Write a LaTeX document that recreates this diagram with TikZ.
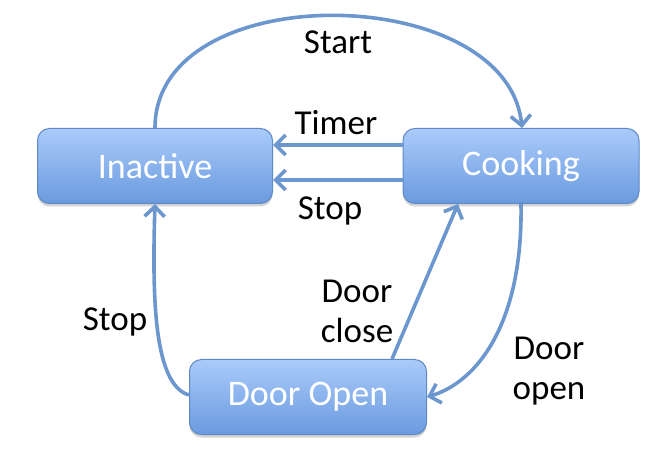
\documentclass[tikz,border=0pt]{standalone}
\usepackage{fontspec}
\setmainfont{Carlito}
\usetikzlibrary{arrows.meta,shadows}
\definecolor{boxtop}{HTML}{AACBFA}
\definecolor{boxbot}{HTML}{6A9ADF}
\definecolor{boxline}{HTML}{5E89C6}
\definecolor{arrowc}{HTML}{6C96CE}
\tikzset{
  state/.style={rectangle, rounded corners=12pt, draw=boxline, line width=1pt,
    top color=boxtop, bottom color=boxbot, minimum height=75pt,
    text=white, font=\fontsize{36}{42}\selectfont,
    drop shadow={opacity=0.35, shadow xshift=0pt, shadow yshift=-3pt}},
  trans/.style={draw=arrowc, line width=3.6pt,
    -{Straight Barb[length=10pt,width=20pt,line width=3.6pt]}},
  lbl/.style={font=\fontsize{35}{40}\selectfont, text=black, align=center}
}
\begin{document}
\begin{tikzpicture}[x=1pt,y=-1pt]
\useasboundingbox (0,0) rectangle (659,454);
\node[state, minimum width=235pt] (inact) at (155,166) {Inactive};
\node[state, minimum width=236pt] (cook) at (521,166) {Cooking};
\node[state, minimum width=237pt] (door) at (308,397) {Door Open};

\draw[trans] (inact.north) .. controls +(0,-152) and +(-15,-147) .. ([xshift=1pt]cook.north);
\draw[trans] ([yshift=21pt]cook.west) -- ([yshift=21pt]inact.east);
\draw[trans] ([yshift=-14pt]cook.west) -- ([yshift=-14pt]inact.east);
\draw[trans] ([yshift=2pt]door.west) .. controls +(-35,-10) and +(-3,95) .. (inact.south);
\draw[trans] ([xshift=84pt]door.north) -- ([xshift=-63pt]cook.south);
\draw[trans] (cook.south) .. controls +(2,120) and +(50,-15) .. (door.east);

\node[lbl] (lstart) at (338,42) {Start};
\node[lbl] (ltimer) at (336,123) {Timer};
\node[lbl] (lstop1) at (330,211) {Stop};
\node[lbl] (lstop2) at (115,322) {Stop};
\node[lbl, inner sep=0pt] (lclose) at (357,311) {Door\\close};
\node[lbl, inner sep=0pt] (lopen) at (549,371) {Door\\open};
\end{tikzpicture}
\end{document}
